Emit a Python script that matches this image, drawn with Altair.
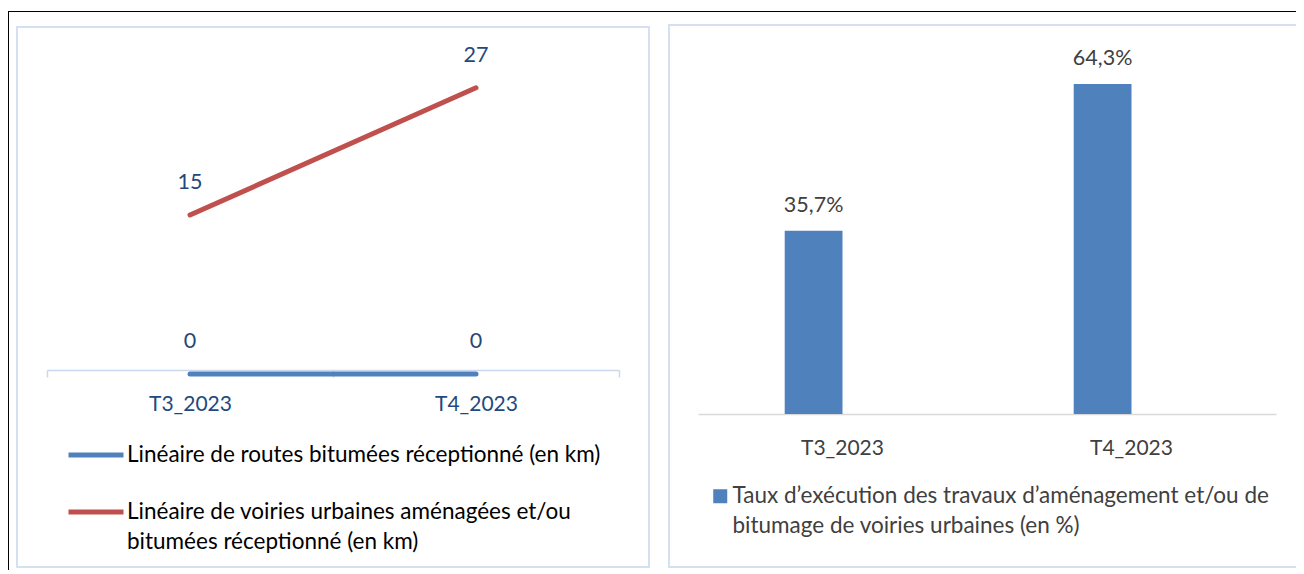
import json
import altair as alt
import pandas as pd

# ---------------- data ----------------
periods = ["T3_2023", "T4_2023"]
routes_km = [0, 0]
voiries_km = [15, 27]
taux_pct = [35.7, 64.3]

routes_name = "Linéaire de routes bitumées réceptionné (en km)"
voiries_lines = ["Linéaire de voiries urbaines aménagées et/ou", "bitumées réceptionné (en km)"]
taux_lines = ["Taux d’exécution des travaux d’aménagement et/ou de", "bitumage de voiries urbaines (en %)"]

voiries_name = " ".join(voiries_lines)
taux_name = " ".join(taux_lines)

FONT = "Lato"
W, H = 1288, 562

line_df = pd.DataFrame({
    "periode": periods * 2,
    "serie": [routes_name] * 2 + [voiries_name] * 2,
    "km": routes_km + voiries_km,
})
bar_df = pd.DataFrame({
    "periode": periods,
    "serie": [taux_name] * len(periods),
    "taux": taux_pct,
})

def js(s):
    return json.dumps(s, ensure_ascii=False)

# ---------------- frames ----------------
one = alt.Data(values=[{"k": 1}])
outer_top = alt.Chart(one).mark_rule(color="black", strokeWidth=1).encode(
    x=alt.value(0), x2=alt.value(W), y=alt.value(3.5))
outer_left = alt.Chart(one).mark_rule(color="black", strokeWidth=1).encode(
    x=alt.value(0.5), y=alt.value(3), y2=alt.value(H))
left_box = alt.Chart(one).mark_rect(filled=False, stroke="#d5e1f1", strokeWidth=2).encode(
    x=alt.value(9), x2=alt.value(641), y=alt.value(19), y2=alt.value(559))
right_box = alt.Chart(one).mark_rect(filled=False, stroke="#d5e1f1", strokeWidth=2).encode(
    x=alt.value(661), x2=alt.value(1310), y=alt.value(17), y2=alt.value(559))

# ---------------- left: lines ----------------
lx = alt.X("periode:N", bandPosition=0.5,
           scale=alt.Scale(type="band", domain=periods, range=[39, 611], paddingInner=0, paddingOuter=0),
           axis=alt.Axis(title=None, orient="bottom", offset=-200, labelAngle=0,
                         domainColor="#c9d8ec", domainWidth=1.5,
                         tickColor="#c9d8ec", tickWidth=1.5, tickSize=7, tickBand="extent",
                         labelColor="#1f497d", labelFont=FONT, labelFontSize=21, labelPadding=16,
                         grid=False))
ly = alt.Y("km:Q", scale=alt.Scale(domain=[0, 30], range=[366, 48]), axis=None)

left_legend = alt.Legend(
    title=None, orient="none", legendX=58, legendY=417, direction="vertical",
    symbolType="stroke", symbolSize=3025, symbolStrokeWidth=5,
    labelFont=FONT, labelFontSize=22.5, labelColor="#000000", labelLimit=800, labelOffset=1,
    padding=0, rowPadding=15,
    labelExpr="datum.label == %s ? %s : datum.label" % (js(voiries_name), js(voiries_lines)),
)

lines = alt.Chart(line_df).mark_line(strokeWidth=5, strokeCap="round").encode(
    x=lx, y=ly,
    color=alt.Color("serie:N", scale=alt.Scale(domain=[routes_name, voiries_name],
                                               range=["#4f81bd", "#c0504d"]),
                    legend=left_legend),
)
line_labels = alt.Chart(line_df).mark_text(dy=-32, font=FONT, fontSize=21.5, color="#1f497d",
                                           baseline="middle").encode(
    x=lx, y=ly, text=alt.Text("km:Q", format="d"))

left_group = alt.layer(lines, line_labels)

# ---------------- right: bars ----------------
bx = alt.X("periode:N",
           scale=alt.Scale(type="band", domain=periods, range=[690, 1268], paddingInner=0.6, paddingOuter=0.3),
           axis=alt.Axis(title=None, orient="bottom", offset=-156, labelAngle=0,
                         domainColor="#d9d9d9", domainWidth=1.5, ticks=False,
                         labelColor="#404040", labelFont=FONT, labelFontSize=21, labelPadding=23,
                         grid=False))
bxo = alt.XOffset("serie:N", scale=alt.Scale(domain=[taux_name, "_"], paddingInner=0, paddingOuter=0))
by = alt.Y("taux:Q", scale=alt.Scale(domain=[0, 70], range=[406, 406 - 70 * 5.132]), axis=None)

right_legend = alt.Legend(
    title=None, orient="none", legendX=701, legendY=477, direction="vertical",
    symbolType="square", symbolSize=196, symbolStrokeWidth=0,
    labelFont=FONT, labelFontSize=22.5, labelColor="#404040", labelLimit=800, labelOffset=1,
    padding=0,
    labelExpr="datum.label == %s ? %s : datum.label" % (js(taux_name), js(taux_lines)),
)

bars = alt.Chart(bar_df).mark_bar().encode(
    x=bx, xOffset=bxo, y=by,
    color=alt.Color("serie:N", scale=alt.Scale(domain=[taux_name], range=["#4f81bd"]),
                    legend=right_legend),
)
bar_labels = alt.Chart(bar_df).transform_calculate(
    lab="replace(format(datum.taux, '.1f'), '.', ',') + '%'"
).mark_text(dy=-25, font=FONT, fontSize=21.5, color="#404040", baseline="middle").encode(
    x=bx, xOffset=bxo, y=by, text="lab:N")

right_group = alt.layer(bars, bar_labels)

chart = alt.layer(outer_top, outer_left, left_box, right_box, left_group, right_group).resolve_scale(
    x="independent", y="independent", color="independent", xOffset="independent"
).properties(
    width=W, height=H, padding=0, autosize=alt.AutoSizeParams(type="none"),
    background="white",
).configure(
    view=alt.ViewConfig(stroke="transparent"),
    style={"guide-label": {"lineHeight": 29.5}},
)

chart.save("out.html", embed_options={"renderer": "svg", "actions": False})
